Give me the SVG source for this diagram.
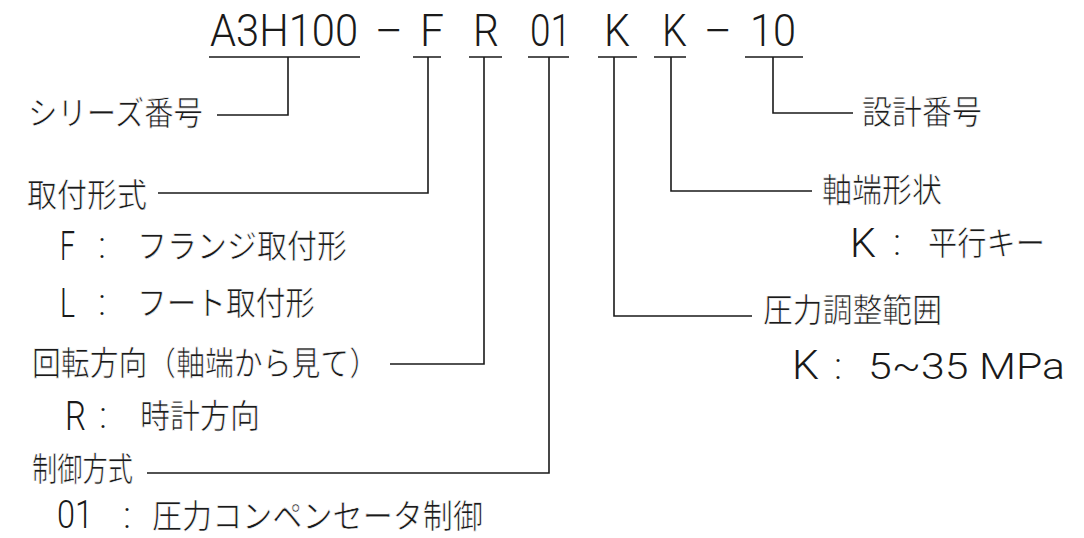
<svg xmlns="http://www.w3.org/2000/svg" width="1084" height="538" viewBox="0 0 1084 538">
<style>
.t{font-family:"Noto Sans CJK JP","Noto Sans",sans-serif;fill:#1a1a1a;stroke:#fff;stroke-width:0.7}
.la{font-family:Roboto,"Noto Sans","Liberation Sans",sans-serif;font-weight:300;fill:#1a1a1a}
.code{font-size:44px}
.lbl{font-size:33px}
.ll{font-size:40px}
.col{font-size:36px;text-anchor:middle}
.ln{stroke:#1a1a1a;stroke-width:1.6;fill:none}
</style>
<rect width="1084" height="538" fill="#fff"/>
<g id="code">
<text class="la code" x="210" y="46" textLength="148" lengthAdjust="spacingAndGlyphs">A3H100</text>
<text class="la code" x="374" y="46" textLength="29" lengthAdjust="spacingAndGlyphs">−</text>
<text class="la code" x="420" y="46" textLength="24" lengthAdjust="spacingAndGlyphs">F</text>
<text class="la code" x="473" y="46" textLength="26" lengthAdjust="spacingAndGlyphs">R</text>
<text class="la code" x="530" y="46" textLength="41" lengthAdjust="spacingAndGlyphs">01</text>
<text class="la code" x="604" y="46" textLength="26" lengthAdjust="spacingAndGlyphs">K</text>
<text class="la code" x="662" y="46" textLength="25" lengthAdjust="spacingAndGlyphs">K</text>
<text class="la code" x="703" y="46" textLength="29" lengthAdjust="spacingAndGlyphs">−</text>
<text class="la code" x="750" y="46" textLength="46" lengthAdjust="spacingAndGlyphs">10</text>
<path class="ln" d="M209 57H360M413 57H441M469 57H502M528 57H569M598 57H637M654 57H686M745 57H803"/>
</g>
<g id="connectors">
<path class="ln" d="M288 57V115H217"/>
<path class="ln" d="M428 57V193H158"/>
<path class="ln" d="M484 57V364H390"/>
<path class="ln" d="M549 57V473H147"/>
<path class="ln" d="M614 57V316H752"/>
<path class="ln" d="M671 57V191H812"/>
<path class="ln" d="M773 57V113H853"/>
</g>
<g id="series"><text class="t lbl" x="28" y="125" textLength="175" lengthAdjust="spacingAndGlyphs">シリーズ番号</text></g>
<g id="mounting">
<text class="t lbl" x="27" y="207" textLength="120" lengthAdjust="spacingAndGlyphs">取付形式</text>
<text class="la ll" x="60" y="260" textLength="15" lengthAdjust="spacingAndGlyphs">F</text>
<text class="la col" x="102" y="258">:</text>
<text class="t lbl" x="137" y="258" textLength="210" lengthAdjust="spacingAndGlyphs">フランジ取付形</text>
<text class="la ll" x="60" y="317" textLength="15" lengthAdjust="spacingAndGlyphs">L</text>
<text class="la col" x="102" y="315">:</text>
<text class="t lbl" x="137" y="315" textLength="178" lengthAdjust="spacingAndGlyphs">フート取付形</text>
</g>
<g id="rotation">
<text class="t lbl" x="32" y="375" textLength="346" lengthAdjust="spacingAndGlyphs">回転方向（軸端から見て）</text>
<text class="la ll" x="65" y="430" textLength="21" lengthAdjust="spacingAndGlyphs">R</text>
<text class="la col" x="103" y="428">:</text>
<text class="t lbl" x="140" y="428" textLength="120" lengthAdjust="spacingAndGlyphs">時計方向</text>
</g>
<g id="control">
<text class="t lbl" x="32" y="481" textLength="101" lengthAdjust="spacingAndGlyphs">制御方式</text>
<text class="la" x="57" y="528" font-size="38" textLength="36" lengthAdjust="spacingAndGlyphs">01</text>
<text class="la col" x="127" y="528">:</text>
<text class="t lbl" x="152" y="528" textLength="331" lengthAdjust="spacingAndGlyphs">圧力コンペンセータ制御</text>
</g>
<g id="design"><text class="t lbl" x="862" y="124" textLength="120" lengthAdjust="spacingAndGlyphs">設計番号</text></g>
<g id="shaft">
<text class="t lbl" x="822" y="202" textLength="120" lengthAdjust="spacingAndGlyphs">軸端形状</text>
<text class="la ll" x="850" y="257" textLength="26" lengthAdjust="spacingAndGlyphs">K</text>
<text class="la col" x="897" y="255">:</text>
<text class="t lbl" x="928" y="255" textLength="117" lengthAdjust="spacingAndGlyphs">平行キー</text>
</g>
<g id="pressure">
<text class="t lbl" x="763" y="322" textLength="179" lengthAdjust="spacingAndGlyphs">圧力調整範囲</text>
<text class="la ll" x="792" y="379" textLength="27" lengthAdjust="spacingAndGlyphs">K</text>
<text class="la col" x="838" y="379">:</text>
<text class="la" x="868" y="379" font-size="36" textLength="197" lengthAdjust="spacingAndGlyphs">5~35 MPa</text>
</g>
</svg>
